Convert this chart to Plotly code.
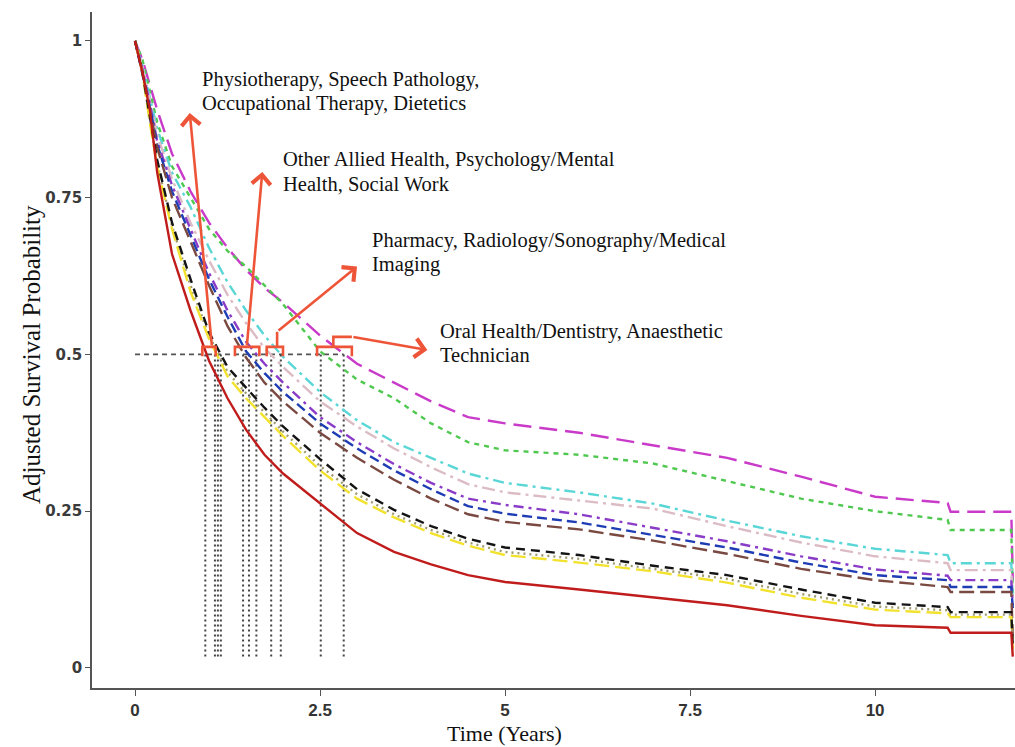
import plotly.graph_objects as go

# ---------------- data ----------------
time_years = [0, 0.1, 0.2, 0.3, 0.5, 0.75, 1.0, 1.25, 1.5, 1.75, 2.0, 2.5, 3.0, 3.5,
              4.0, 4.5, 5.0, 6.0, 7.0, 8.0, 9.0, 10.0, 10.98, 11.02, 11.84, 11.86]

surv_magenta = [1, 0.97, 0.93, 0.89, 0.82, 0.76, 0.71, 0.67, 0.635, 0.606, 0.583, 0.53, 0.485, 0.455,
                0.425, 0.40, 0.39, 0.375, 0.355, 0.335, 0.305, 0.273, 0.263, 0.249, 0.249, 0.14]
surv_green = [1, 0.97, 0.92, 0.87, 0.80, 0.75, 0.70, 0.665, 0.64, 0.61, 0.58, 0.505, 0.46, 0.43,
              0.39, 0.36, 0.347, 0.34, 0.326, 0.298, 0.27, 0.25, 0.236, 0.22, 0.22, 0.12]
surv_cyan = [1, 0.96, 0.91, 0.86, 0.79, 0.735, 0.67, 0.615, 0.57, 0.53, 0.496, 0.44, 0.395, 0.36,
             0.335, 0.31, 0.295, 0.28, 0.262, 0.235, 0.21, 0.19, 0.18, 0.167, 0.167, 0.11]
surv_thistle = [1, 0.96, 0.905, 0.85, 0.78, 0.71, 0.65, 0.595, 0.55, 0.51, 0.48, 0.425, 0.385, 0.35,
                0.32, 0.293, 0.28, 0.267, 0.254, 0.226, 0.2, 0.178, 0.167, 0.156, 0.156, 0.105]
surv_purple = [1, 0.955, 0.9, 0.84, 0.77, 0.70, 0.63, 0.57, 0.52, 0.485, 0.455, 0.4, 0.36, 0.325,
               0.295, 0.27, 0.26, 0.245, 0.224, 0.202, 0.178, 0.157, 0.147, 0.14, 0.14, 0.10]
surv_blue = [1, 0.95, 0.895, 0.835, 0.76, 0.69, 0.62, 0.56, 0.505, 0.47, 0.44, 0.39, 0.35, 0.315,
             0.285, 0.258, 0.246, 0.232, 0.212, 0.192, 0.168, 0.148, 0.14, 0.129, 0.129, 0.095]
surv_brown = [1, 0.95, 0.89, 0.83, 0.75, 0.68, 0.61, 0.545, 0.495, 0.455, 0.425, 0.375, 0.335, 0.3,
              0.27, 0.245, 0.233, 0.221, 0.203, 0.182, 0.158, 0.14, 0.129, 0.121, 0.121, 0.05]
surv_black = [1, 0.95, 0.88, 0.81, 0.71, 0.62, 0.535, 0.48, 0.447, 0.415, 0.385, 0.333, 0.285, 0.252,
              0.226, 0.206, 0.192, 0.18, 0.163, 0.148, 0.125, 0.104, 0.097, 0.089, 0.089, 0.035]
surv_gray = [1, 0.95, 0.875, 0.805, 0.705, 0.61, 0.53, 0.472, 0.438, 0.407, 0.377, 0.322, 0.277, 0.245,
             0.22, 0.2, 0.185, 0.174, 0.158, 0.142, 0.118, 0.098, 0.092, 0.085, 0.085, 0.04]
surv_yellow = [1, 0.95, 0.87, 0.80, 0.70, 0.60, 0.525, 0.465, 0.43, 0.40, 0.37, 0.315, 0.27, 0.24,
               0.215, 0.195, 0.18, 0.168, 0.154, 0.136, 0.112, 0.093, 0.087, 0.081, 0.081, 0.03]
surv_red = [1, 0.95, 0.89, 0.79, 0.66, 0.57, 0.49, 0.43, 0.38, 0.34, 0.31, 0.263, 0.215, 0.185,
            0.165, 0.148, 0.137, 0.125, 0.113, 0.10, 0.083, 0.068, 0.064, 0.056, 0.056, 0.018]

median_times = [0.95, 1.08, 1.12, 1.16, 1.46, 1.54, 1.64, 1.84, 1.97, 2.51, 2.82]

x_ticks = [0, 2.5, 5, 7.5, 10]
x_tick_labels = ["0", "2.5", "5", "7.5", "10"]
y_ticks = [0, 0.25, 0.5, 0.75, 1]
y_tick_labels = ["0", "0.25", "0.5", "0.75", "1"]

group_labels = [
    ("Physiotherapy, Speech Pathology,", "Occupational Therapy, Dietetics"),
    ("Other Allied Health, Psychology/Mental", "Health, Social Work"),
    ("Pharmacy, Radiology/Sonography/Medical", "Imaging"),
    ("Oral Health/Dentistry, Anaesthetic", "Technician"),
]

# ---------------- styles ----------------
series = [
    (surv_magenta, "#c93ac9", "18px,8px"),
    (surv_green, "#4fc84f", "5px,5px"),
    (surv_cyan, "#5ad6d6", "11px,5px,3px,5px"),
    (surv_thistle, "#dcbcc4", "13px,5px,3px,5px"),
    (surv_purple, "#8a3cc8", "10px,5px,3px,5px"),
    (surv_blue, "#1e3cb4", "10px,5px"),
    (surv_brown, "#7a4a42", "15px,6px"),
    (surv_gray, "#a09a70", "2px,4px"),
    (surv_yellow, "#f2e22e", "15px,6px"),
    (surv_black, "#141414", "9px,6px"),
    (surv_red, "#c01c1c", "solid"),
]

fig = go.Figure()

# median reference lines
fig.add_trace(go.Scatter(x=[0, max(median_times)], y=[0.5, 0.5], mode="lines",
                         line=dict(color="#555555", width=1.6, dash="5px,4px"),
                         hoverinfo="skip", showlegend=False))
for m in median_times:
    fig.add_trace(go.Scatter(x=[m, m], y=[0.5, 0.015], mode="lines",
                             line=dict(color="#444444", width=2, dash="2px,3px"),
                             hoverinfo="skip", showlegend=False))

for vals, col, dash in series:
    fig.add_trace(go.Scatter(x=time_years, y=vals, mode="lines",
                             line=dict(color=col, width=2.4, dash=dash),
                             hoverinfo="skip", showlegend=False))

# ---------------- annotation brackets & arrows ----------------
RED = "#ee5538"
bracket_spans = [(0.91, 1.09), (1.35, 1.68), (1.78, 2.0), (2.46, 2.93)]
b_top, b_bot = 0.512, 0.497
for a, b in bracket_spans:
    fig.add_shape(type="path",
                  path=f"M {a},{b_bot} L {a},{b_top} L {b},{b_top} L {b},{b_bot}",
                  xref="x", yref="y", line=dict(color=RED, width=2.6))

# stubs for groups 3 and 4
fig.add_shape(type="path", path=f"M 1.92,{b_top} L 1.92,0.536",
              xref="x", yref="y", line=dict(color=RED, width=2.6))
fig.add_shape(type="path", path=f"M 2.68,{b_top} L 2.68,0.528 L 2.93,0.528",
              xref="x", yref="y", line=dict(color=RED, width=2.6))

arrows = [  # (tail_x, tail_y, head_x, head_y)
    (1.04, b_top, 0.74, 0.885),
    (1.51, b_top, 1.72, 0.791),
    (1.92, 0.536, 3.0, 0.64),
    (2.93, 0.528, 3.95, 0.507),
]
for tx, ty, hx, hy in arrows:
    fig.add_annotation(x=hx, y=hy, ax=tx, ay=ty, xref="x", yref="y", axref="x", ayref="y",
                       text="", showarrow=True, arrowhead=4, arrowsize=1.4,
                       arrowwidth=2.6, arrowcolor=RED)

TXT_FONT = dict(family="Liberation Serif, Times New Roman, serif", size=20.5, color="#111111")
label_pos = [(0.878, 0.919), (1.97, 0.791), (3.18, 0.663), (4.09, 0.518)]
for (lx, ly), (l1, l2) in zip(label_pos, group_labels):
    fig.add_annotation(x=lx, y=ly, xref="x", yref="y", text=l1, showarrow=False,
                       xanchor="left", yanchor="middle", yshift=12, font=TXT_FONT)
    fig.add_annotation(x=lx, y=ly, xref="x", yref="y", text=l2, showarrow=False,
                       xanchor="left", yanchor="middle", yshift=-12, font=TXT_FONT)

# axis titles
fig.add_annotation(x=-0.066, y=0.4926, xref="paper", yref="paper", text="Adjusted Survival Probability",
                   textangle=-90, showarrow=False, xanchor="center", yanchor="middle",
                   font=dict(family="Liberation Serif, Times New Roman, serif", size=25, color="#111111"))
fig.add_annotation(x=0.447, y=-0.0666, xref="paper", yref="paper", text="Time (Years)",
                   showarrow=False, xanchor="center", yanchor="middle",
                   font=dict(family="Liberation Serif, Times New Roman, serif", size=22, color="#111111"))

fig.update_layout(
    width=1015, height=747,
    margin=dict(l=92, r=0, t=12, b=59),
    paper_bgcolor="white", plot_bgcolor="white",
    showlegend=False,
    xaxis=dict(range=[-0.581, 11.89], tickvals=x_ticks, ticktext=x_tick_labels,
               showgrid=False, zeroline=False, showline=True, linecolor="#555555", linewidth=1.6,
               ticks="outside", ticklen=6, tickcolor="#555555", tickwidth=1.2,
               tickfont=dict(family="Liberation Sans Narrow, Arial Narrow, sans-serif", size=17,
                             color="#333333", weight="bold")),
    yaxis=dict(range=[-0.032, 1.046], tickvals=y_ticks, ticktext=y_tick_labels,
               showgrid=False, zeroline=False, showline=True, linecolor="#555555", linewidth=1.6,
               ticks="outside", ticklen=5, tickcolor="#555555", tickwidth=1.2,
               tickfont=dict(family="DejaVu Sans, Verdana, sans-serif", size=15,
                             color="#3a3a3a", weight="bold")),
)

fig.write_html("out.html", config={"displayModeBar": False},
               post_script="document.body.style.margin='0';document.body.style.overflow='hidden';")
